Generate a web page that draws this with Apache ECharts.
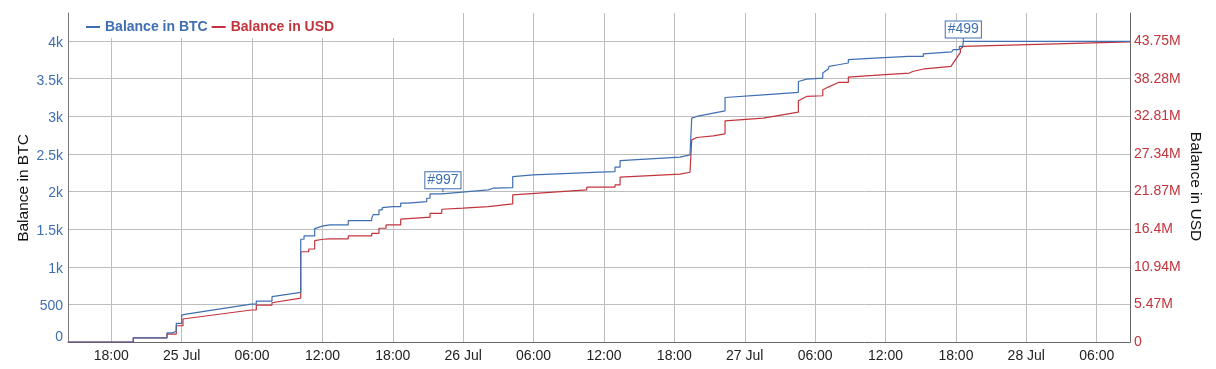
<!DOCTYPE html>
<html>
<head>
<meta charset="utf-8">
<script src="https://cdn.jsdelivr.net/npm/echarts@6/dist/echarts.min.js"></script>
<style>
html,body{margin:0;padding:0;background:#fff;}
#chart{width:1216px;height:369px;}
</style>
</head>
<body>
<div id="chart"></div>
<script>
// Times are hours relative to 25 Jul 2020 00:00 (UTC)
const baseTime = Date.UTC(2020, 6, 25);
const HOUR = 3600000;
const xRangeHours = [-9.69, 80.84];
const monthNames = ['Jan','Feb','Mar','Apr','May','Jun','Jul','Aug','Sep','Oct','Nov','Dec'];

const seriesNames = ['Balance in BTC', 'Balance in USD'];

// Balance in BTC: [hour, BTC]
const btcPoints = [
  [-9.69,0],[-4.13,0],[-4.13,56],[-1.25,56],[-1.25,122],[-0.74,122],[-0.74,145],[-0.46,145],[-0.46,247],
  [0,247],[0,358],[0.39,371],[5.93,504],[6.36,504],[6.36,544],[7.70,544],[7.70,602],[10.15,660],
  [10.15,1366],[10.43,1366],[10.43,1410],[11.34,1410],[11.34,1507],[12.05,1543],[12.64,1556],
  [14.20,1556],[14.20,1613],[16.20,1613],[16.20,1645],[16.33,1645],[16.33,1693],[16.82,1693],
  [16.82,1755],[17.10,1755],[17.10,1786],[17.99,1800],[18.67,1800],[18.67,1845],[19.29,1845],
  [19.29,1866],[20.89,1866],[20.89,1911],[21.17,1911],[21.17,1969],[22.17,1969],[22.17,1991],
  [26.14,2022],[26.56,2044],[28.22,2053],[28.22,2199],[29.97,2221],[35.66,2257],[36.94,2265],
  [36.94,2324],[37.37,2324],[37.37,2412],[42.48,2457],[43.33,2488],[43.48,2488],[43.48,2976],
  [43.91,2998],[45.32,3043],[45.47,3064],[46.32,3073],[46.32,3250],[49.58,3286],[52.57,3317],
  [52.57,3463],[53.28,3495],[54.65,3508],[54.65,3575],[55.12,3628],[55.18,3663],[55.98,3685],
  [56.83,3708],[56.83,3752],[58.68,3770],[61.94,3796],[63.22,3796],[63.22,3830],[65.64,3855],
  [65.78,3855],[65.78,3885],[66.29,3885],[66.29,3929],[66.58,3929],[66.58,3952],[66.63,3952],
  [66.63,3995],[80.84,3995]
];

// Balance in USD: [hour, million USD]
const usdPoints = [
  [-9.69,0],[-4.13,0],[-4.13,0.61],[-1.25,0.61],[-1.25,1.15],[-0.46,1.15],[-0.46,2.36],[0.11,2.36],
  [0.11,3.34],[5.93,4.65],[6.36,4.65],[6.36,5.37],[7.70,5.37],[7.70,5.71],[10.15,6.39],[10.15,13.12],
  [10.83,13.12],[10.83,13.52],[11.34,13.52],[11.34,14.73],[12.05,14.94],[12.64,14.98],[14.20,14.98],
  [14.20,15.42],[16.20,15.42],[16.20,15.80],[16.82,15.80],[16.82,16.54],[17.42,16.54],[17.42,17.02],
  [18.67,17.02],[18.67,17.85],[20.89,18.13],[21.17,18.13],[21.17,18.71],[22.17,18.71],[22.17,19.30],
  [23.98,19.45],[26.14,19.69],[28.22,20.07],[28.22,21.38],[34.53,22.11],[34.53,22.51],[36.94,22.51],
  [36.94,22.84],[37.37,22.84],[37.37,23.96],[42.48,24.40],[43.33,24.68],[43.48,24.68],[43.48,29.39],
  [43.91,29.73],[45.32,29.97],[45.47,30.26],[46.32,30.26],[46.32,32.15],[49.58,32.55],[52.57,33.42],
  [52.57,35.06],[53.28,35.70],[54.65,35.80],[54.65,36.67],[55.12,37.06],[55.98,37.73],[56.83,37.73],
  [56.83,38.52],[58.96,38.75],[62.03,39.10],[62.32,39.33],[63.31,39.72],[64.02,39.83],[65.58,40.06],
  [66.38,42.11],[66.38,42.60],[66.63,42.97],[80.84,43.64]
];

// Flag annotations on the BTC line: [label, hour, BTC]
const flags = [
  ['#997', 22.27, 1991],
  ['#499', 66.63, 3995]
];

const btcAxis = { max: 4373, interval: 500 };
const usdAxis = { max: 47.83, interval: 5.4682 };

const BLUE = '#3f6fb2';
const RED = '#c2343c';
const FONT = '"Liberation Sans", Arial, Helvetica, sans-serif';

const toTime = h => baseTime + h * HOUR;
const pad = n => (n < 10 ? '0' : '') + n;

const chart = echarts.init(document.getElementById('chart'), null, { renderer: 'canvas' });

chart.setOption({
  animation: false,
  useUTC: true,
  textStyle: { fontFamily: FONT },
  legend: {
    left: 70, top: 13,
    padding: [7, 80, 4, 16],
    backgroundColor: '#fff',
    itemGap: 4,
    itemWidth: 14, itemHeight: 2,
    icon: 'rect',
    data: [
      { name: seriesNames[0], textStyle: { color: BLUE } },
      { name: seriesNames[1], textStyle: { color: RED } }
    ],
    textStyle: { fontSize: 14, fontWeight: 'bold', fontFamily: FONT }
  },
  grid: { left: 68, right: 86, top: 13, bottom: 27, containLabel: false },
  xAxis: {
    type: 'time',
    min: toTime(xRangeHours[0]),
    max: toTime(xRangeHours[1]),
    minInterval: 6.5 * HOUR,
    maxInterval: 6.5 * HOUR,
    axisLine: { lineStyle: { color: '#666', width: 1 } },
    axisTick: { show: false },
    splitLine: { show: true, showMinLine: false, showMaxLine: false, lineStyle: { color: '#bdbdbd', width: 1 } },
    axisLabel: {
      color: '#222', fontSize: 14, margin: 7, fontFamily: FONT,
      showMinLabel: false, showMaxLabel: false,
      formatter: function (val) {
        const d = new Date(val);
        if (d.getUTCHours() === 0 && d.getUTCMinutes() === 0) {
          return d.getUTCDate() + ' ' + monthNames[d.getUTCMonth()];
        }
        return pad(d.getUTCHours()) + ':' + pad(d.getUTCMinutes());
      }
    }
  },
  yAxis: [
    {
      type: 'value', min: 0, max: btcAxis.max, interval: btcAxis.interval,
      name: 'Balance in BTC', nameLocation: 'middle', nameGap: 36, nameMoveOverlap: false,
      nameTextStyle: { color: '#111', fontSize: 15.5, fontFamily: FONT, padding: [0, 21, 0, 0] },
      axisLine: { show: true, lineStyle: { color: '#777', width: 1 } },
      axisTick: { show: false },
      splitLine: { show: true, showMaxLine: false, showMinLine: false, lineStyle: { color: '#bdbdbd', width: 1 } },
      axisLabel: {
        color: BLUE, fontSize: 14, margin: 5, fontFamily: FONT, showMaxLabel: false,
        padding: [4, 0, 0, 0],
        formatter: v => (v === 0 ? '{z|0}' : v >= 1000 ? (v / 1000) + 'k' : String(v)),
        rich: { z: { color: BLUE, fontSize: 14, fontFamily: FONT, padding: [0, 0, 14, 0] } }
      }
    },
    {
      type: 'value', min: 0, max: usdAxis.max, interval: usdAxis.interval, position: 'right',
      name: 'Balance in USD', nameLocation: 'middle', nameGap: 57, nameRotate: -90, nameMoveOverlap: false,
      nameTextStyle: { color: '#111', fontSize: 15.5, fontFamily: FONT, padding: [0, 0, 0, 18] },
      axisLine: { show: true, lineStyle: { color: '#666', width: 1 } },
      axisTick: { show: false },
      splitLine: { show: false },
      axisLabel: {
        color: RED, fontSize: 14, margin: 4, fontFamily: FONT, showMaxLabel: false,
        padding: [5, 0, 0, 0],
        formatter: v => (v === 0 ? '0' : parseFloat(v.toFixed(2)) + 'M')
      }
    }
  ],
  series: [
    {
      name: seriesNames[1], type: 'line', yAxisIndex: 1,
      showSymbol: false, symbol: 'none', z: 2,
      lineStyle: { color: RED, width: 1.2 },
      itemStyle: { color: RED },
      data: usdPoints.map(p => [toTime(p[0]), p[1]])
    },
    {
      name: seriesNames[0], type: 'line', yAxisIndex: 0,
      showSymbol: false, symbol: 'none', z: 3,
      lineStyle: { color: BLUE, width: 1.2 },
      itemStyle: { color: BLUE },
      data: btcPoints.map(p => [toTime(p[0]), p[1]]),
      markPoint: {
        symbol: 'rect',
        symbolSize: [1, 4],
        symbolOffset: [0, -2],
        itemStyle: { color: BLUE },
        label: {
          show: true, position: 'top', distance: 0,
          color: BLUE, fontSize: 14, fontFamily: FONT, lineHeight: 14,
          backgroundColor: '#fff', borderColor: BLUE, borderWidth: 1,
          padding: [1, 2, 1, 2],
          formatter: p => p.name
        },
        data: flags.map(f => ({ name: f[0], coord: [toTime(f[1]), f[2]] }))
      }
    }
  ]
});
</script>
</body>
</html>
